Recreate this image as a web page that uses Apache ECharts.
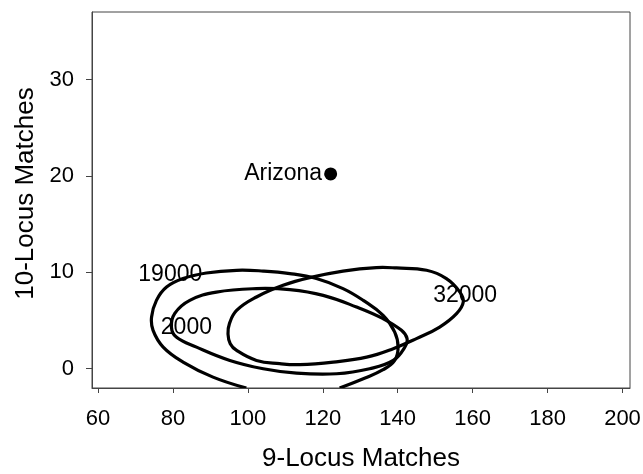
<!DOCTYPE html>
<html><head><meta charset="utf-8">
<script src="https://cdn.jsdelivr.net/npm/echarts@6/dist/echarts.min.js"></script>
<style>html,body{margin:0;padding:0;background:#fff}#c{width:643px;height:474px}</style>
</head><body><div id="c"></div>
<script>
// ---- data ----
const xTicks = [60, 80, 100, 120, 140, 160, 180, 200];
const yTicks = [0, 10, 20, 30];

// contour "19000" (open at the bottom, cut by the plot edge)
const curve19000 = [[99.6,-2.0],[90.7,-0.87],[82.7,0.69],[77.4,2.24],[74.7,3.97],[74.3,5.36],[75.6,7.09],[78.3,8.47],[82.7,9.35],[88.9,9.93],[97.0,10.21],[104.1,10.13],[111.2,9.87],[118.3,9.35],[125.4,8.31],[130.8,7.09],[136.1,5.53],[139.2,3.80],[140.1,2.24],[139.2,0.86],[136.1,-0.1],[130.8,-1.04],[124.5,-2.0]];
// contour "2000" (closed loop)
const curve2000 = [[79.6,4.32],[80.9,3.28],[86.3,2.24],[95.2,0.86],[104.1,0.0],[113.0,-0.46],[123.7,-0.52],[132.5,0.0],[138.8,0.86],[141.9,2.24],[142.5,3.12],[141.0,3.98],[136.1,5.19],[129.0,6.40],[120.1,7.61],[111.2,8.20],[102.3,8.31],[91.6,7.95],[84.5,7.09],[80.5,5.74]];
// contour "32000" (closed loop)
const curve32000 = [[95.1,4.7],[97.0,6.05],[102.3,7.44],[109.4,8.65],[116.5,9.45],[125.4,10.13],[134.3,10.49],[139.7,10.45],[147.7,10.21],[153.0,9.35],[156.6,7.95],[157.5,6.92],[155.7,5.71],[151.2,4.32],[145.0,3.12],[138.8,2.08],[131.7,1.20],[122.8,0.69],[113.9,0.42],[108.5,0.52],[102.3,0.86],[97.0,1.90],[95.3,2.6],[94.7,3.6]];

const contourNames = ['19000', '2000', '32000'];
const contourLabelAt = [[79.3, 9.8], [83.6, 4.3], [158.0, 7.6]];

const pointName = 'Arizona';
const pointValue = [122.1, 20.2];

// ---- chart ----
const chart = echarts.init(document.getElementById('c'), null, {renderer: 'canvas'});
const FONT = 'Liberation Sans, Arial, sans-serif';

// each contour: a custom series whose points are mapped through the axes (api.coord)
const curveSeries = (pts, closed) => ({
  type: 'custom', coordinateSystem: 'cartesian2d', data: pts, silent: true, z: 3, clip: true,
  renderItem: (params, api) => {
    if (params.dataIndex !== 0) return null;
    const points = pts.map(p => api.coord(p));
    return {
      type: closed ? 'polygon' : 'polyline',
      shape: {points: points, smooth: 0.42},
      style: {fill: 'none', stroke: '#000', lineWidth: 3.2}
    };
  }
});

chart.setOption({
  animation: false,
  backgroundColor: '#fff',
  grid: {left: 92, right: 13, top: 12, bottom: 86, containLabel: false, outerBoundsMode: 'none',
         show: true, borderColor: '#444', borderWidth: 1},
  xAxis: {
    type: 'value', min: 58.4, max: 202,
    axisLine: {show: true, onZero: false, lineStyle: {color: '#444', width: 1}},
    axisTick: {show: true, customValues: xTicks, length: 5, lineStyle: {color: '#444'}},
    axisLabel: {customValues: xTicks, fontSize: 22, color: '#000', fontFamily: FONT, margin: 20},
    splitLine: {show: false},
    name: '9-Locus Matches', nameLocation: 'middle', nameGap: 58,
    nameTextStyle: {fontSize: 26, color: '#000', fontFamily: FONT}
  },
  yAxis: {
    type: 'value', min: -2, max: 37,
    axisLine: {show: true, onZero: false, lineStyle: {color: '#444', width: 1}},
    axisTick: {show: true, customValues: yTicks, length: 6, lineStyle: {color: '#444'}},
    axisLabel: {customValues: yTicks, fontSize: 22, color: '#000', fontFamily: FONT, margin: 18},
    splitLine: {show: false},
    name: '10-Locus Matches', nameLocation: 'middle', nameGap: 52,
    nameTextStyle: {fontSize: 26, color: '#000', fontFamily: FONT, padding: [0, 0, 0, 13]}
  },
  series: [
    curveSeries(curve19000, false),
    curveSeries(curve2000, true),
    curveSeries(curve32000, true),
    {
      type: 'scatter', silent: true, z: 2,
      data: contourNames.map((n, i) => ({name: n, value: contourLabelAt[i]})),
      symbolSize: 2, itemStyle: {color: 'rgba(0,0,0,0)'},
      label: {show: true, position: [1, 1], align: 'center', verticalAlign: 'middle',
              formatter: '{b}', fontSize: 23, color: '#000', opacity: 1, fontFamily: FONT}
    },
    {
      type: 'scatter', silent: true, z: 4,
      data: [{name: pointName, value: pointValue}],
      symbol: 'circle', symbolSize: 13, itemStyle: {color: '#000', opacity: 1},
      label: {show: true, position: 'left', distance: 2, formatter: '{b}', fontSize: 23, color: '#000', fontFamily: FONT}
    }
  ]
});
</script>
</body></html>
